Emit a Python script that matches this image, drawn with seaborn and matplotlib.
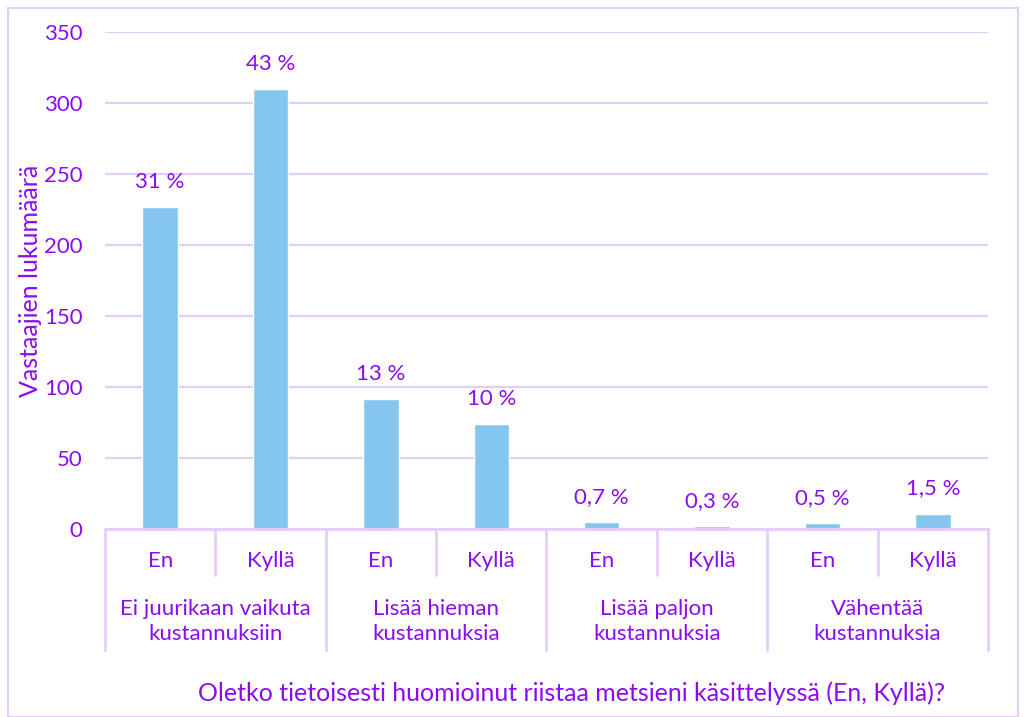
import matplotlib
matplotlib.use("Agg")
import matplotlib.pyplot as plt
import matplotlib.transforms as mtransforms
from matplotlib.patches import Rectangle
import seaborn as sns
import pandas as pd

groups = ["Ei juurikaan vaikuta\nkustannuksiin", "Lisää hieman\nkustannuksia",
          "Lisää paljon\nkustannuksia", "Vähentää\nkustannuksia"]
answers = ["En", "Kyllä"]
counts = [227, 310, 92, 74, 5, 2, 4, 11]
pct_labels = ["31 %", "43 %", "13 %", "10 %", "0,7 %", "0,3 %", "0,5 %", "1,5 %"]
y_ticks = [0, 50, 100, 150, 200, 250, 300, 350]
y_title = "Vastaajien lukumäärä"
x_title = "Oletko tietoisesti huomioinut riistaa metsieni käsittelyssä (En, Kyllä)?"

purple = "#8C0CF2"
grid_col = "#E6CCF8"
bar_col = "#85C6EF"

sns.set_theme(style="white")
plt.rcParams['font.family'] = ['Lato', 'DejaVu Sans']

keys = [f"{g}|{a}" for g in groups for a in answers]
df = pd.DataFrame({"key": keys, "count": counts})

fig = plt.figure(figsize=(10.26, 7.17), dpi=100)
ax = fig.add_axes([0.1023, 0.262, 0.963 - 0.1023, 0.955 - 0.262])

sns.barplot(data=df, x="key", y="count", order=keys, color=bar_col,
            width=0.32, saturation=1, ax=ax, zorder=3)

ax.set_xlim(-0.5, len(keys) - 0.5)
ax.set_ylim(0, 350)
ax.set_yticks(y_ticks)
ax.set_yticklabels([str(t) for t in y_ticks], color=purple, fontsize=16)
ax.tick_params(axis='y', length=0, pad=16)
ax.set_xticks([])
ax.set_xlabel("")
ax.set_ylabel("")
for s in ax.spines.values():
    s.set_visible(False)
ax.yaxis.grid(True, color=grid_col, linewidth=1.6, zorder=0)
ax.set_axisbelow(True)

# value labels
for i, (c, lab) in enumerate(zip(counts, pct_labels)):
    ax.annotate(lab, (i, c), xytext=(0, 25), textcoords="offset pixels",
                ha="center", va="center", color=purple, fontsize=16)

# category axis
trans = mtransforms.blended_transform_factory(ax.transData, ax.transAxes)
ax_h_px = (0.955 - 0.262) * 717
def ypx(px):
    return -px / ax_h_px

ax.plot([-0.5, len(keys) - 0.5], [0, 0], transform=trans, color=grid_col,
        linewidth=2, clip_on=False, zorder=4)
for k in range(len(keys) + 1):
    xpos = k - 0.5
    depth = 121 if k % 2 == 0 else 46
    ax.plot([xpos, xpos], [0, ypx(depth)], transform=trans, color=grid_col,
            linewidth=2, clip_on=False)
for i, k in enumerate(keys):
    ax.text(i, ypx(32), k.split("|")[1], transform=trans, ha="center",
            va="center", color=purple, fontsize=16)
for gi, g in enumerate(groups):
    ax.text(2 * gi + 0.5, ypx(92), g, transform=trans, ha="center",
            va="center", color=purple, fontsize=16, linespacing=1.3)

fig.text(572 / 1026, 1 - 693 / 717, x_title, ha="center", va="center",
         color=purple, fontsize=18)
fig.text(31 / 1026, 1 - 281 / 717, y_title, ha="center", va="center",
         rotation=90, color=purple, fontsize=18)

# outer border
fig.patches.append(Rectangle((8 / 1026, 0), 1010 / 1026, 1 - 8 / 717,
                             transform=fig.transFigure, fill=False,
                             edgecolor=grid_col, linewidth=1.5))

fig.savefig("out.png", dpi=100)
